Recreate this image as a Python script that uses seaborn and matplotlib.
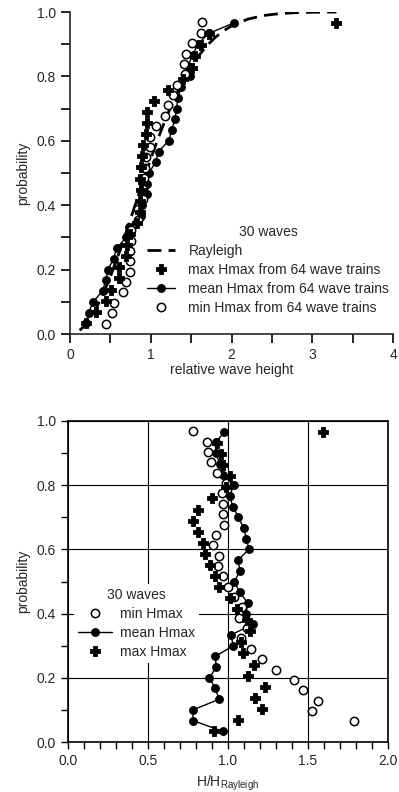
import numpy as np
import pandas as pd
import matplotlib
matplotlib.use("Agg")
import matplotlib.pyplot as plt
from matplotlib.lines import Line2D
from matplotlib.ticker import MultipleLocator
import seaborn as sns

# ---------------- data ----------------
# Rayleigh curve (relative wave height vs. probability)
ray_x = [0.12, 0.2, 0.3, 0.4, 0.5, 0.6, 0.7, 0.8, 0.9, 1.0, 1.1, 1.2, 1.3, 1.4,
         1.5, 1.6, 1.7, 1.8, 1.9, 2.0, 2.2, 2.4, 2.6, 2.8, 3.0, 3.3]
ray_p = [0.0112, 0.0309, 0.0683, 0.1181, 0.1783, 0.2463, 0.3194, 0.3951, 0.4707,
         0.5441, 0.6134, 0.6773, 0.7348, 0.7855, 0.8292, 0.8661, 0.8967, 0.9215,
         0.9413, 0.9568, 0.9777, 0.9892, 0.9951, 0.9979, 0.9992, 0.9998]

# mean Hmax (29 points)
mean_p = [0.0333, 0.0667, 0.1000, 0.1333, 0.1667, 0.2000, 0.2333, 0.2667, 0.3000,
          0.3333, 0.3667, 0.4000, 0.4333, 0.4667, 0.5000, 0.5333, 0.5667, 0.6000,
          0.6333, 0.6667, 0.7000, 0.7333, 0.7667, 0.8000, 0.8333, 0.8667, 0.9000,
          0.9333, 0.9667]
mean_h = [0.201, 0.232, 0.286, 0.403, 0.443, 0.471, 0.539, 0.578, 0.697, 0.731,
          0.881, 0.896, 0.957, 0.959, 0.977, 1.059, 1.096, 1.222, 1.260, 1.299,
          1.319, 1.338, 1.375, 1.483, 1.461, 1.520, 1.582, 1.718, 2.033]
mean_ratio = [0.967, 0.781, 0.781, 0.945, 0.920, 0.884, 0.927, 0.920, 1.034, 1.017,
              1.155, 1.111, 1.125, 1.072, 1.040, 1.075, 1.062, 1.131, 1.115, 1.098,
              1.065, 1.031, 1.010, 1.036, 0.967, 0.949, 0.924, 0.925, 0.977]

# min Hmax (30 points)
min_p = [0.0323, 0.0645, 0.0968, 0.1290, 0.1613, 0.1935, 0.2258, 0.2581, 0.2903,
         0.3226, 0.3548, 0.3871, 0.4194, 0.4516, 0.4839, 0.5161, 0.5484, 0.5806,
         0.6129, 0.6452, 0.6774, 0.7097, 0.7419, 0.7742, 0.8065, 0.8387, 0.8710,
         0.9032, 0.9355, 0.9677]
min_h = [0.445, 0.522, 0.548, 0.655, 0.694, 0.739, 0.743, 0.749, 0.757, 0.760,
         0.837, 0.846, 0.904, 0.907, 0.920, 0.930, 0.941, 0.995, 0.996, 1.062,
         1.173, 1.214, 1.275, 1.325, 1.424, 1.416, 1.440, 1.509, 1.620, 1.629]
min_ratio = [2.18, 1.790, 1.522, 1.561, 1.466, 1.413, 1.302, 1.215, 1.145, 1.079,
             1.120, 1.071, 1.086, 1.038, 1.002, 0.967, 0.935, 0.946, 0.906, 0.925,
             0.977, 0.967, 0.971, 0.963, 0.985, 0.929, 0.892, 0.875, 0.867, 0.779]

# max Hmax (28 points)
max_p = [0.0345, 0.0690, 0.1034, 0.1379, 0.1724, 0.2069, 0.2414, 0.2759, 0.3103,
         0.3448, 0.3793, 0.4138, 0.4483, 0.4828, 0.5172, 0.5517, 0.5862, 0.6207,
         0.6552, 0.6897, 0.7241, 0.7586, 0.7931, 0.8276, 0.8621, 0.8966, 0.9310,
         0.9655]
max_h = [0.193, 0.321, 0.452, 0.509, 0.604, 0.610, 0.690, 0.701, 0.743, 0.834,
         0.873, 0.870, 0.881, 0.867, 0.885, 0.897, 0.907, 0.935, 0.948, 0.951,
         1.042, 1.208, 1.402, 1.515, 1.542, 1.621, 1.716, 3.296]
max_ratio = [0.915, 1.063, 1.213, 1.170, 1.230, 1.123, 1.164, 1.093, 1.080, 1.137,
             1.120, 1.055, 1.013, 0.946, 0.919, 0.888, 0.856, 0.842, 0.814, 0.779,
             0.814, 0.898, 0.990, 1.013, 0.971, 0.954, 0.930, 1.592]

top_xticks = [0, 1, 2, 3, 4]
bot_xticks = [0.0, 0.5, 1.0, 1.5, 2.0]
yticks = [0.0, 0.2, 0.4, 0.6, 0.8, 1.0]

# ---------------- style ----------------
sns.set_style("ticks")
plt.rcParams["font.family"] = ["Liberation Sans", "DejaVu Sans"]
plt.rcParams["mathtext.fontset"] = "custom"
plt.rcParams["mathtext.rm"] = "Liberation Sans"
plt.rcParams["mathtext.it"] = "Liberation Sans:italic"
plt.rcParams["axes.linewidth"] = 1.2
FS = 10

fig = plt.figure(figsize=(3.99, 7.92), dpi=100)
ax1 = fig.add_axes([70 / 399, (792 - 334) / 792, 323 / 399, 322 / 792])
ax2 = fig.add_axes([68 / 399, (792 - 742) / 792, 320 / 399, 321 / 792])

K = "black"
ms_o = 6.0    # open circles
ms_f = 6.4    # filled circles
PLUS_S = 42


def plus_marks(ax, x, y):
    sns.scatterplot(x=x, y=y, ax=ax, marker="P", s=PLUS_S, color=K,
                    edgecolor=K, linewidth=0.6, zorder=4)


# ---------------- top panel ----------------
sns.lineplot(x=ray_x, y=ray_p, ax=ax1, color=K, lw=2.0, sort=False,
             estimator=None)
ax1.lines[-1].set_dashes((5, 2.6))
sns.lineplot(x=mean_h, y=mean_p, ax=ax1, color=K, lw=1.0, sort=False,
             estimator=None, marker="o", markersize=ms_f, markeredgewidth=0,
             markerfacecolor=K)
ax1.scatter(min_h, min_p, s=ms_o ** 2, marker="o", facecolor="white",
            edgecolor=K, linewidth=1.1, zorder=3)
plus_marks(ax1, max_h, max_p)

ax1.set_xlim(0, 4)
ax1.set_ylim(0, 1)
ax1.set_xticks(top_xticks)
ax1.set_yticks(yticks)
ax1.xaxis.set_minor_locator(MultipleLocator(0.5))
ax1.yaxis.set_minor_locator(MultipleLocator(0.1))
ax1.tick_params(which="both", direction="out", length=6.5, width=1.2,
                labelsize=FS, color=K)
ax1.set_xticklabels([str(t) for t in top_xticks])
ax1.set_yticklabels([f"{t:.1f}" for t in yticks])
ax1.set_xlabel("relative wave height", fontsize=FS, labelpad=1)
ax1.set_ylabel("probability", fontsize=FS, labelpad=5)
sns.despine(ax=ax1)

h_top = [
    Line2D([], [], color=K, lw=2.0, dashes=(5, 2.6)),
    Line2D([], [], color=K, lw=0, marker="P", ms=6.5, mew=0.6),
    Line2D([], [], color=K, lw=1.0, marker="o", ms=ms_f, mew=0),
    Line2D([], [], color=K, lw=0, marker="o", ms=ms_o, mfc="white", mew=1.1),
]
l_top = ["Rayleigh", "max Hmax from 64 wave trains",
         "mean Hmax from 64 wave trains", "min Hmax from 64 wave trains"]
ax1.legend(h_top, l_top, title="30 waves", loc="center",
           bbox_to_anchor=(0.613, 0.199), frameon=False, fontsize=FS,
           title_fontsize=FS, handlelength=2.0, handletextpad=1.0,
           labelspacing=0.35, borderpad=0.2)

# ---------------- bottom panel ----------------
ax2.grid(True, color=K, lw=0.8)
ax2.set_axisbelow(True)
sns.lineplot(x=mean_ratio, y=mean_p, ax=ax2, color=K, lw=1.0, sort=False,
             estimator=None, orient="y", marker="o", markersize=ms_f,
             markeredgewidth=0, markerfacecolor=K)
ax2.scatter(min_ratio, min_p, s=ms_o ** 2, marker="o", facecolor="white",
            edgecolor=K, linewidth=1.1, zorder=3)
plus_marks(ax2, max_ratio, max_p)

ax2.set_xlim(0, 2)
ax2.set_ylim(0, 1)
ax2.set_xticks(bot_xticks)
ax2.set_yticks(yticks)
ax2.xaxis.set_minor_locator(MultipleLocator(0.1))
ax2.yaxis.set_minor_locator(MultipleLocator(0.1))
ax2.tick_params(which="both", direction="out", length=5, width=1.0,
                labelsize=FS, color=K)
ax2.set_xticklabels([f"{t:.1f}" for t in bot_xticks])
ax2.set_yticklabels([f"{t:.1f}" for t in yticks])
ax2.set_xlabel(r"H/H$_{\mathrm{Rayleigh}}$", fontsize=FS, labelpad=4)
ax2.set_ylabel("probability", fontsize=FS, labelpad=5)
for s in ax2.spines.values():
    s.set_color(K)
    s.set_linewidth(1.2)

h_bot = [
    Line2D([], [], color=K, lw=0, marker="o", ms=ms_o, mfc="white", mew=1.1),
    Line2D([], [], color=K, lw=1.0, marker="o", ms=ms_f, mew=0),
    Line2D([], [], color=K, lw=0, marker="P", ms=6.5, mew=0.6),
]
l_bot = ["min Hmax", "mean Hmax", "max Hmax"]
leg2 = ax2.legend(h_bot, l_bot, title="30 waves", loc="center",
                  bbox_to_anchor=(0.215, 0.37), frameon=True, fancybox=False,
                  fontsize=FS, title_fontsize=FS, handlelength=2.4,
                  handletextpad=0.6, labelspacing=0.35, borderpad=0.3,
                  framealpha=1)
leg2.get_frame().set_edgecolor("none")
leg2.get_frame().set_facecolor("white")

fig.savefig("out.png", dpi=100)
